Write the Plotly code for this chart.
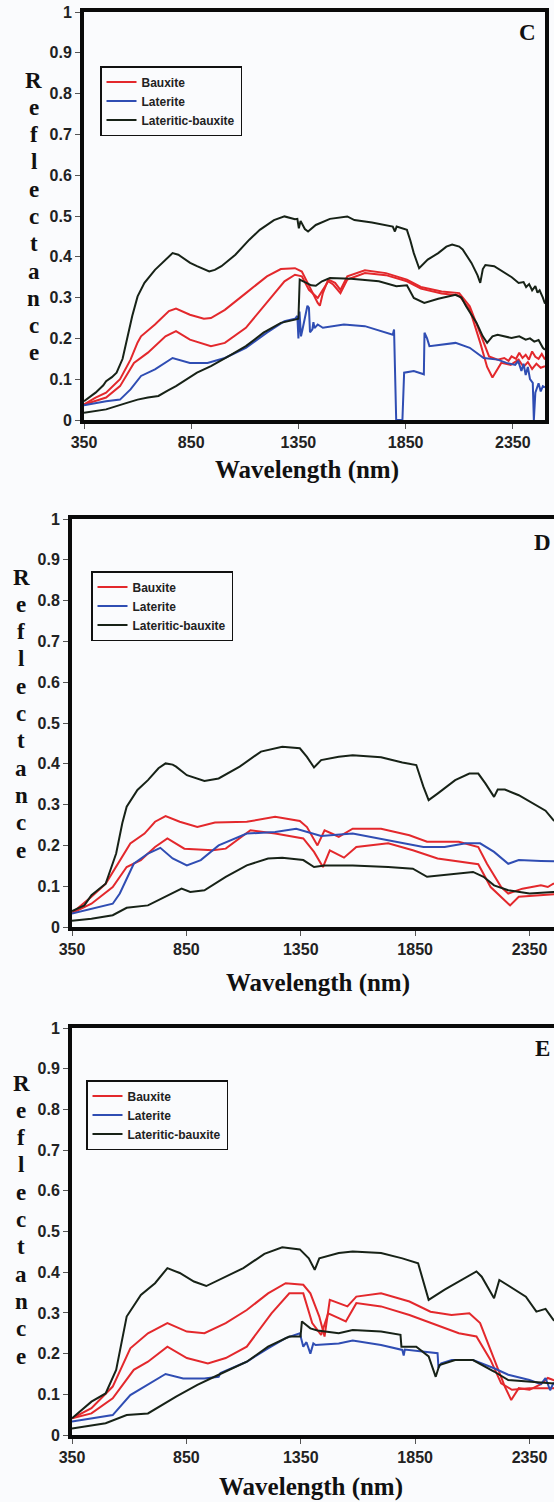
import plotly.graph_objects as go

W, H = 554, 1502

# ---------------- Panel C ----------------
C_WL_LB1 = [350, 404, 440, 453, 480, 502, 530, 550, 575, 600, 632, 681, 730, 763, 790, 811, 845, 877, 934, 960, 991,
            1056, 1121, 1170, 1236, 1285, 1334, 1345, 1352, 1360, 1380, 1395, 1431, 1497, 1578, 1611, 1693, 1790, 1800,
            1808, 1856, 1872, 1888, 1913, 1953, 2002, 2040, 2067, 2100, 2116, 2157, 2185, 2198, 2210, 2222, 2263, 2312,
            2345, 2377, 2400, 2412, 2426, 2440, 2455, 2465, 2475, 2490, 2500]
C_LB1 = [0.046, 0.067, 0.085, 0.095, 0.105, 0.116, 0.150, 0.197, 0.255, 0.303, 0.336, 0.368, 0.393, 0.409, 0.405, 0.397,
         0.385, 0.377, 0.364, 0.368, 0.377, 0.405, 0.442, 0.466, 0.490, 0.499, 0.492, 0.493, 0.470, 0.488, 0.468, 0.462,
         0.478, 0.493, 0.499, 0.490, 0.484, 0.474, 0.462, 0.474, 0.466, 0.440, 0.409, 0.372, 0.393, 0.409, 0.425, 0.430,
         0.425, 0.418, 0.385, 0.355, 0.336, 0.370, 0.380, 0.377, 0.360, 0.350, 0.336, 0.338, 0.326, 0.333, 0.318, 0.328,
         0.312, 0.318, 0.300, 0.285]

C_WL_LB2 = [350, 453, 550, 600, 648, 697, 740, 779, 877, 942, 1023, 1105, 1187, 1268, 1334, 1350, 1356, 1383, 1410, 1431,
            1460, 1497, 1595, 1725, 1807, 1856, 1875, 1888, 1937, 2002, 2083, 2110, 2132, 2181, 2210, 2230, 2255, 2279,
            2344, 2380, 2410, 2430, 2450, 2470, 2490, 2500]
C_LB2 = [0.018, 0.026, 0.042, 0.050, 0.055, 0.059, 0.072, 0.083, 0.116, 0.132, 0.156, 0.181, 0.214, 0.238, 0.246, 0.248,
         0.344, 0.336, 0.330, 0.329, 0.340, 0.348, 0.346, 0.340, 0.328, 0.330, 0.310, 0.299, 0.287, 0.297, 0.307, 0.300,
         0.279, 0.238, 0.205, 0.189, 0.205, 0.209, 0.201, 0.205, 0.197, 0.200, 0.192, 0.196, 0.177, 0.172]

C_WL_BX1 = [350, 404, 453, 518, 567, 600, 616, 681, 746, 779, 844, 909, 942, 1007, 1105, 1203, 1268, 1334, 1366, 1399,
            1440, 1450, 1464, 1489, 1521, 1546, 1578, 1660, 1758, 1856, 1921, 2018, 2100, 2149, 2198, 2239, 2279, 2310,
            2330, 2344, 2365, 2380, 2395, 2410, 2425, 2440, 2455, 2470, 2485, 2500]
C_BX1 = [0.038, 0.055, 0.067, 0.100, 0.148, 0.190, 0.205, 0.234, 0.267, 0.273, 0.258, 0.248, 0.250, 0.270, 0.311, 0.352,
         0.370, 0.372, 0.364, 0.328, 0.287, 0.280, 0.311, 0.344, 0.336, 0.319, 0.352, 0.367, 0.360, 0.344, 0.326, 0.315,
         0.311, 0.279, 0.214, 0.156, 0.148, 0.152, 0.145, 0.156, 0.150, 0.165, 0.152, 0.160, 0.148, 0.168, 0.155, 0.150,
         0.162, 0.148]

C_WL_BX2 = [350, 453, 518, 583, 648, 730, 779, 844, 942, 1007, 1105, 1203, 1285, 1334, 1366, 1399, 1440, 1464, 1489, 1512,
            1546, 1578, 1660, 1758, 1856, 1921, 2018, 2100, 2149, 2198, 2230, 2255, 2296, 2340, 2377, 2400, 2420, 2440,
            2460, 2480, 2500]
C_BX2 = [0.038, 0.055, 0.083, 0.140, 0.165, 0.205, 0.218, 0.197, 0.181, 0.189, 0.226, 0.287, 0.340, 0.356, 0.352, 0.319,
         0.299, 0.319, 0.340, 0.332, 0.311, 0.344, 0.360, 0.355, 0.340, 0.322, 0.310, 0.305, 0.271, 0.189, 0.130, 0.104,
         0.140, 0.135, 0.148, 0.130, 0.142, 0.125, 0.138, 0.128, 0.132]

C_WL_LT = [350, 453, 518, 567, 616, 681, 763, 844, 926, 1007, 1105, 1203, 1285, 1334, 1345, 1350, 1355, 1362, 1369, 1380,
           1392, 1399, 1404, 1415, 1420, 1425, 1440, 1464, 1562, 1660, 1758, 1790, 1796, 1800, 1806, 1835, 1840, 1843,
           1888, 1935, 1938, 1950, 1961, 2018, 2083, 2149, 2214, 2279, 2320, 2361, 2375, 2390, 2400, 2410, 2420, 2430,
           2443, 2448, 2455, 2470, 2480, 2490, 2500]
C_LT = [0.036, 0.046, 0.050, 0.075, 0.108, 0.124, 0.152, 0.140, 0.140, 0.152, 0.177, 0.214, 0.242, 0.248, 0.255, 0.200,
        0.266, 0.205, 0.222, 0.250, 0.280, 0.275, 0.215, 0.222, 0.240, 0.225, 0.234, 0.226, 0.234, 0.230, 0.214, 0.209,
        0.222, 0.120, 0.000, 0.000, 0.090, 0.116, 0.120, 0.112, 0.214, 0.200, 0.181, 0.185, 0.189, 0.177, 0.152, 0.148,
        0.140, 0.135, 0.145, 0.120, 0.138, 0.110, 0.130, 0.100, 0.091, 0.000, 0.067, 0.090, 0.070, 0.083, 0.080]

# ---------------- Panel D ----------------
D_WL_LB1 = [350, 404, 435, 450, 497, 543, 570, 589, 636, 682, 728, 759, 790, 805, 852, 929, 991, 1083, 1176, 1269, 1346,
            1377, 1408, 1439, 1516, 1577, 1701, 1794, 1855, 1886, 1909, 1948, 2025, 2087, 2126, 2157, 2195, 2211, 2242,
            2303, 2380, 2420, 2454, 2500]
D_LB1 = [0.039, 0.053, 0.078, 0.085, 0.106, 0.180, 0.255, 0.295, 0.336, 0.360, 0.389, 0.401, 0.398, 0.393, 0.372, 0.358,
         0.364, 0.393, 0.430, 0.442, 0.438, 0.417, 0.391, 0.409, 0.417, 0.421, 0.416, 0.403, 0.397, 0.344, 0.311, 0.327,
         0.360, 0.376, 0.376, 0.352, 0.319, 0.337, 0.337, 0.323, 0.299, 0.285, 0.262, 0.245]

D_WL_LB2 = [350, 435, 528, 589, 682, 759, 829, 867, 929, 1022, 1114, 1207, 1269, 1361, 1408, 1454, 1577, 1732, 1840, 1902,
            1979, 2103, 2149, 2195, 2257, 2350, 2454, 2500]
D_LB2 = [0.015, 0.020, 0.029, 0.047, 0.053, 0.074, 0.094, 0.086, 0.090, 0.123, 0.151, 0.168, 0.170, 0.164, 0.147, 0.151,
         0.151, 0.147, 0.143, 0.123, 0.127, 0.135, 0.123, 0.102, 0.090, 0.082, 0.086, 0.085]

D_WL_BX1 = [350, 435, 497, 559, 605, 667, 713, 759, 821, 898, 975, 1114, 1238, 1346, 1377, 1423, 1454, 1490, 1516, 1577,
            1701, 1825, 1902, 2041, 2126, 2164, 2226, 2257, 2319, 2360, 2400, 2430, 2454, 2500]
D_BX1 = [0.034, 0.074, 0.106, 0.164, 0.205, 0.229, 0.258, 0.272, 0.258, 0.245, 0.256, 0.258, 0.270, 0.260, 0.245, 0.200,
         0.237, 0.228, 0.221, 0.241, 0.241, 0.225, 0.209, 0.209, 0.196, 0.155, 0.098, 0.082, 0.094, 0.098, 0.102, 0.098,
         0.106, 0.108]

D_WL_BX2 = [350, 435, 528, 589, 651, 713, 767, 841, 965, 1022, 1130, 1238, 1361, 1408, 1447, 1477, 1539, 1593, 1732, 1840,
            1948, 2041, 2126, 2180, 2265, 2303, 2400, 2454, 2500]
D_BX2 = [0.034, 0.057, 0.098, 0.147, 0.164, 0.196, 0.217, 0.192, 0.188, 0.192, 0.237, 0.229, 0.217, 0.184, 0.147, 0.188,
         0.170, 0.196, 0.205, 0.188, 0.168, 0.160, 0.154, 0.098, 0.053, 0.074, 0.078, 0.082, 0.082]

D_WL_LT = [350, 435, 528, 559, 620, 682, 736, 790, 852, 913, 991, 1114, 1238, 1330, 1377, 1439, 1577, 1732, 1886, 1979,
           2072, 2134, 2195, 2257, 2303, 2400, 2454, 2500]
D_LT = [0.033, 0.045, 0.057, 0.082, 0.155, 0.180, 0.194, 0.168, 0.151, 0.164, 0.200, 0.229, 0.233, 0.241, 0.233, 0.223,
        0.229, 0.213, 0.196, 0.196, 0.205, 0.205, 0.184, 0.155, 0.164, 0.162, 0.162, 0.160]

# ---------------- Panel E ----------------
E_WL_LB1 = [350, 435, 497, 543, 589, 651, 713, 767, 821, 883, 937, 1006, 1099, 1191, 1269, 1346, 1385, 1411, 1431, 1516,
            1577, 1701, 1794, 1863, 1909, 1979, 2041, 2118, 2141, 2195, 2218, 2273, 2334, 2380, 2420, 2454, 2500]
E_LB1 = [0.041, 0.082, 0.102, 0.160, 0.291, 0.344, 0.373, 0.410, 0.398, 0.377, 0.366, 0.385, 0.410, 0.445, 0.461, 0.456,
         0.434, 0.406, 0.434, 0.447, 0.451, 0.447, 0.434, 0.422, 0.332, 0.357, 0.377, 0.402, 0.389, 0.336, 0.381, 0.361,
         0.340, 0.303, 0.310, 0.283, 0.265]

E_WL_LB2 = [350, 497, 589, 682, 805, 898, 991, 1114, 1207, 1300, 1349, 1355, 1392, 1423, 1516, 1577, 1701, 1786, 1790,
            1855, 1909, 1940, 1956, 2025, 2103, 2195, 2257, 2350, 2454, 2500]
E_LB2 = [0.016, 0.029, 0.049, 0.053, 0.094, 0.123, 0.148, 0.180, 0.217, 0.242, 0.242, 0.279, 0.262, 0.257, 0.250, 0.258,
         0.254, 0.246, 0.217, 0.217, 0.193, 0.143, 0.172, 0.184, 0.184, 0.156, 0.135, 0.131, 0.127, 0.125]

E_WL_BX1 = [350, 435, 528, 605, 682, 767, 852, 929, 1022, 1114, 1207, 1284, 1361, 1392, 1431, 1454, 1477, 1516, 1554,
            1593, 1701, 1825, 1917, 2009, 2087, 2134, 2195, 2242, 2270, 2303, 2350, 2400, 2430, 2454, 2500]
E_BX1 = [0.041, 0.066, 0.119, 0.213, 0.250, 0.275, 0.254, 0.250, 0.275, 0.307, 0.348, 0.373, 0.369, 0.348, 0.291, 0.242,
         0.332, 0.324, 0.316, 0.340, 0.348, 0.328, 0.303, 0.295, 0.299, 0.275, 0.184, 0.119, 0.086, 0.115, 0.111, 0.125,
         0.140, 0.135, 0.130]

E_WL_BX2 = [350, 435, 528, 620, 682, 767, 852, 944, 1022, 1114, 1222, 1300, 1361, 1400, 1439, 1470, 1516, 1547, 1593,
            1701, 1825, 1948, 2041, 2118, 2180, 2226, 2273, 2350, 2454, 2500]
E_BX2 = [0.041, 0.053, 0.090, 0.160, 0.180, 0.217, 0.189, 0.176, 0.189, 0.217, 0.299, 0.348, 0.348, 0.275, 0.246, 0.299,
         0.287, 0.279, 0.324, 0.316, 0.295, 0.270, 0.250, 0.242, 0.184, 0.127, 0.111, 0.115, 0.115, 0.118]

E_WL_LT = [350, 435, 528, 605, 682, 759, 836, 929, 991, 999, 1114, 1207, 1284, 1346, 1361, 1375, 1392, 1405, 1415, 1516,
           1577, 1701, 1794, 1800, 1805, 1886, 1948, 1952, 1964, 2010, 2103, 2195, 2257, 2350, 2400, 2420, 2440, 2454, 2500]
E_LT = [0.033, 0.041, 0.049, 0.098, 0.123, 0.150, 0.139, 0.139, 0.143, 0.152, 0.180, 0.213, 0.238, 0.250, 0.217, 0.228,
        0.200, 0.225, 0.221, 0.225, 0.232, 0.221, 0.209, 0.195, 0.210, 0.205, 0.201, 0.165, 0.176, 0.184, 0.184, 0.164,
        0.148, 0.135, 0.125, 0.140, 0.110, 0.127, 0.125]

SERIES_NAMES = ["Bauxite", "Laterite", "Lateritic-bauxite"]
X_TICKS = [350, 850, 1350, 1850, 2350]
Y_TICKS = [0, 0.1, 0.2, 0.3, 0.4, 0.5, 0.6, 0.7, 0.8, 0.9, 1]
Y_TICKTEXT = ["0", "0.1", "0.2", "0.3", "0.4", "0.5", "0.6", "0.7", "0.8", "0.9", "1"]
Y_TITLE_LETTERS = list("Reflectance")
PANEL_LETTERS = ["C", "D", "E"]

BG = "#fafbfd"
RED = "#e3282c"
BLUE = "#2f4db3"
BLACK = "#172217"

panel_data = [
    dict(bx=[(C_WL_BX1, C_BX1), (C_WL_BX2, C_BX2)], lt=[(C_WL_LT, C_LT)], lb=[(C_WL_LB1, C_LB1), (C_WL_LB2, C_LB2)]),
    dict(bx=[(D_WL_BX1, D_BX1), (D_WL_BX2, D_BX2)], lt=[(D_WL_LT, D_LT)], lb=[(D_WL_LB1, D_LB1), (D_WL_LB2, D_LB2)]),
    dict(bx=[(E_WL_BX1, E_BX1), (E_WL_BX2, E_BX2)], lt=[(E_WL_LT, E_LT)], lb=[(E_WL_LB1, E_LB1), (E_WL_LB2, E_LB2)]),
]

# layout geometry (pixels)
panels = [
    dict(xdom=(84, 545), ydom=(12, 420), xrange=(350, 2500), mirror_y=True, legend=(100, 66),
         letter=(527, 33), title=(307, 470), ytitle=(33.5, 80)),
    dict(xdom=(72, 554), ydom=(519, 927), xrange=(350, 2457), mirror_y=False, legend=(91, 571),
         letter=(542, 542), title=(318, 983), ytitle=(21, 577)),
    dict(xdom=(72, 554), ydom=(1028, 1435), xrange=(350, 2457), mirror_y=False, legend=(86, 1080),
         letter=(542, 1048), title=(311, 1487), ytitle=(21, 1083)),
]


def px(x):
    return x / W


def py(y):
    return 1 - y / H


fig = go.Figure()
annotations = []
layout_extra = {}

for i, (pd_, pg) in enumerate(zip(panel_data, panels)):
    n = "" if i == 0 else str(i + 1)
    xa, ya = "x" + n, "y" + n
    leg = "legend" + n
    groups = [("bx", SERIES_NAMES[0], RED), ("lt", SERIES_NAMES[1], BLUE), ("lb", SERIES_NAMES[2], BLACK)]
    for key, name, color in groups:
        for j, (wl, val) in enumerate(pd_[key]):
            fig.add_trace(go.Scatter(
                x=wl, y=val, mode="lines", name=name, legendgroup=name + n,
                showlegend=(j == 0), legend=leg, xaxis=xa, yaxis=ya,
                line=dict(color=color, width=2), hoverinfo="skip",
            ))

    layout_extra["xaxis" + n] = dict(
        domain=[px(pg["xdom"][0]), px(pg["xdom"][1])], range=list(pg["xrange"]),
        anchor=ya, showgrid=False, zeroline=False, showline=True, linewidth=4, linecolor="#0a0a0a",
        mirror=True, ticks="outside", ticklen=5, tickwidth=1, tickcolor="#555",
        tickvals=X_TICKS, ticktext=[str(v) for v in X_TICKS],
        tickfont=dict(family="Liberation Sans", size=16, color="#222", weight="bold"),
        automargin=False,
    )
    layout_extra["yaxis" + n] = dict(
        domain=[py(pg["ydom"][1]), py(pg["ydom"][0])], range=[0, 1],
        anchor=xa, showgrid=False, zeroline=False, showline=True, linewidth=4, linecolor="#0a0a0a",
        mirror=pg["mirror_y"], ticks="outside", ticklen=5, tickwidth=1, tickcolor="#555",
        tickvals=Y_TICKS, ticktext=Y_TICKTEXT,
        tickfont=dict(family="Liberation Sans", size=16, color="#222", weight="bold"),
        automargin=False,
    )
    layout_extra[leg] = dict(
        x=px(pg["legend"][0]), y=py(pg["legend"][1]), xanchor="left", yanchor="top",
        bgcolor=BG, bordercolor="#111", borderwidth=1.5, tracegroupgap=0,
        font=dict(family="Liberation Sans", size=12, color="#222", weight="bold"),
        itemwidth=30,
    )

    annotations.append(dict(
        text=PANEL_LETTERS[i], x=px(pg["letter"][0]), y=py(pg["letter"][1]), xref="paper", yref="paper",
        showarrow=False, xanchor="center", yanchor="middle",
        font=dict(family="Liberation Serif", size=23, color="#111", weight="bold"),
    ))
    annotations.append(dict(
        text="Wavelength (nm)", x=px(pg["title"][0]), y=py(pg["title"][1]), xref="paper", yref="paper",
        showarrow=False, xanchor="center", yanchor="middle",
        font=dict(family="Liberation Serif", size=25, color="#111", weight="bold"),
    ))
    for k, letter in enumerate(Y_TITLE_LETTERS):
        annotations.append(dict(
            text=letter, x=px(pg["ytitle"][0]), y=py(pg["ytitle"][1] + k * 27.3), xref="paper", yref="paper",
            showarrow=False, xanchor="center", yanchor="middle",
            font=dict(family="Liberation Serif", size=23, color="#111", weight="bold"),
        ))

fig.update_layout(
    width=W, height=H, margin=dict(l=0, r=0, t=0, b=0),
    paper_bgcolor=BG, plot_bgcolor=BG,
    annotations=annotations, **layout_extra,
)

fig.write_html("out.html")
